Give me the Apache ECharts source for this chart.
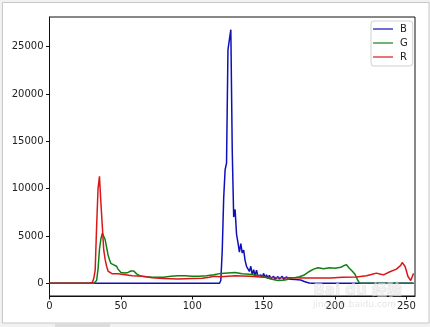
<!DOCTYPE html>
<html>
<head>
<meta charset="utf-8">
<script src="https://cdn.jsdelivr.net/npm/echarts@6/dist/echarts.min.js"></script>
<style>
html,body{margin:0;padding:0;background:#f1f1f1;}
#c{width:430px;height:327px;}
</style>
</head>
<body>
<div id="c"></div>
<script>
var seriesNames = ['B', 'G', 'R'];
var xTicks = [0, 50, 100, 150, 200, 250];
var yTicks = [0, 5000, 10000, 15000, 20000, 25000];

var blueData = [[0,0],[119,0],[120,300],[121,3500],[122,9000],[123,12000],[124,12700],[125,24700],[126,24800],[127,26800],[128,14000],[129,7000],[130,7800],[131,5200],[132,4300],[133,3300],[134,4200],[135,3200],[136,3500],[137,2400],[138,1800],[139,1950],[140,1250],[141,1800],[142,900],[143,1450],[144,800],[145,1400],[146,750],[147,850],[148,900],[149,650],[150,1050],[151,600],[152,900],[153,500],[154,850],[155,500],[156,600],[157,750],[158,450],[159,500],[160,700],[161,450],[162,600],[163,750],[164,420],[165,500],[166,700],[167,450],[168,650],[169,420],[170,450],[172,400],[174,380],[176,350],[178,220],[180,110],[182,40],[184,0],[255,0]];

var greenData = [[0,0],[31,0],[32,80],[33,300],[34,1500],[35,3600],[36,4700],[37,5300],[38,5100],[39,4600],[40,3800],[41,3000],[42,2500],[43,2100],[44,2000],[45,1950],[46,1950],[47,1800],[48,1500],[49,1300],[50,1150],[51,1100],[53,1100],[55,1150],[57,1300],[59,1300],[61,1000],[63,800],[65,750],[68,700],[72,650],[76,650],[80,650],[85,750],[90,800],[95,800],[100,750],[105,750],[110,800],[115,900],[120,1050],[125,1100],[130,1150],[135,1000],[140,950],[145,850],[150,700],[155,450],[160,300],[165,350],[170,550],[175,700],[178,850],[182,1250],[185,1500],[188,1650],[192,1550],[196,1650],[200,1600],[204,1700],[206,1850],[208,1970],[210,1600],[212,1300],[214,950],[216,300],[217,40],[219,0],[255,0]];

var redData = [[0,0],[28,0],[30,100],[31,500],[32,1400],[33,6000],[34,10000],[35,11300],[36,8500],[37,6000],[38,3500],[39,2500],[40,1800],[41,1300],[42,1100],[44,1000],[48,1000],[53,900],[58,800],[65,750],[72,600],[80,500],[90,460],[100,500],[107,530],[112,650],[115,740],[120,700],[125,750],[130,800],[135,780],[140,750],[150,650],[160,600],[170,600],[180,550],[190,570],[197,570],[205,650],[215,670],[222,800],[226,950],[229,1080],[232,950],[234,900],[238,1200],[243,1500],[246,1900],[247,2200],[249,1800],[250,1300],[251,750],[253,300],[254,150],[255,1050]];

var colors = ['#1010b8', '#128012', '#d81818'];
var font = 'DejaVu Sans';

var chart = echarts.init(document.getElementById('c'), null, {renderer: 'canvas'});
chart.setOption({
  animation: false,
  backgroundColor: '#f1f1f1',
  color: colors,
  graphic: [
    {type: 'rect', z: -10, shape: {x: 2.5, y: 2.5, width: 426.5, height: 320.5}, style: {fill: '#ffffff', stroke: '#c8c8c8', lineWidth: 1}},
    {type: 'rect', z: -10, shape: {x: 55, y: 323.5, width: 55, height: 4}, style: {fill: '#dcdcdc'}},
    {type: 'text', z: 100, left: 313, top: 283, style: {text: 'Bai du 经验', fill: 'rgba(235,235,235,0.55)', stroke: 'rgba(190,190,190,0.35)', lineWidth: 0.8, font: 'bold 15px "DejaVu Sans", "Noto Sans CJK SC"'}},
    {type: 'text', z: 100, left: 313, top: 300, style: {text: 'jingyan.baidu.com', fill: 'rgba(200,200,200,0.45)', font: '9px "DejaVu Sans"'}}
  ],
  grid: {left: 49.5, right: 15, top: 17, bottom: 31, show: true, borderColor: '#111', borderWidth: 1, backgroundColor: '#fff'},
  legend: {
    data: seriesNames,
    orient: 'vertical',
    left: 371, top: 21,
    padding: [3, 5, 4, 2],
    itemGap: 4,
    itemWidth: 20,
    itemHeight: 10,
    icon: 'path://M0,4.4 L20,4.4 L20,5.6 L0,5.6 Z',
    backgroundColor: '#fff',
    borderColor: '#d0d0d0',
    borderWidth: 1,
    borderRadius: 3,
    textStyle: {fontFamily: font, fontSize: 10, lineHeight: 10, color: '#222', padding: [0, 0, 0, 2]}
  },
  xAxis: {
    type: 'value', min: 0, max: 256,
    axisLine: {show: true, onZero: false, lineStyle: {color: '#111', width: 1}},
    axisTick: {show: true, length: 3.5, customValues: xTicks, lineStyle: {color: '#111'}},
    axisLabel: {customValues: xTicks, margin: 5, fontFamily: font, fontSize: 10, color: '#222', formatter: function (v) { return String(v); }},
    splitLine: {show: false}
  },
  yAxis: {
    type: 'value', min: -1340, max: 28140,
    axisLine: {show: true, onZero: false, lineStyle: {color: '#111', width: 1}},
    axisTick: {show: true, length: 3.5, customValues: yTicks, lineStyle: {color: '#111'}},
    axisLabel: {customValues: yTicks, margin: 6, fontFamily: font, fontSize: 10, color: '#222', formatter: function (v) { return String(v); }},
    splitLine: {show: false}
  },
  series: [
    {name: seriesNames[0], type: 'line', data: blueData, symbol: 'none', lineStyle: {width: 1.5, color: colors[0]}, itemStyle: {color: colors[0]}},
    {name: seriesNames[1], type: 'line', data: greenData, symbol: 'none', lineStyle: {width: 1.5, color: colors[1]}, itemStyle: {color: colors[1]}},
    {name: seriesNames[2], type: 'line', data: redData, symbol: 'none', lineStyle: {width: 1.5, color: colors[2]}, itemStyle: {color: colors[2]}}
  ]
});
</script>
</body>
</html>
